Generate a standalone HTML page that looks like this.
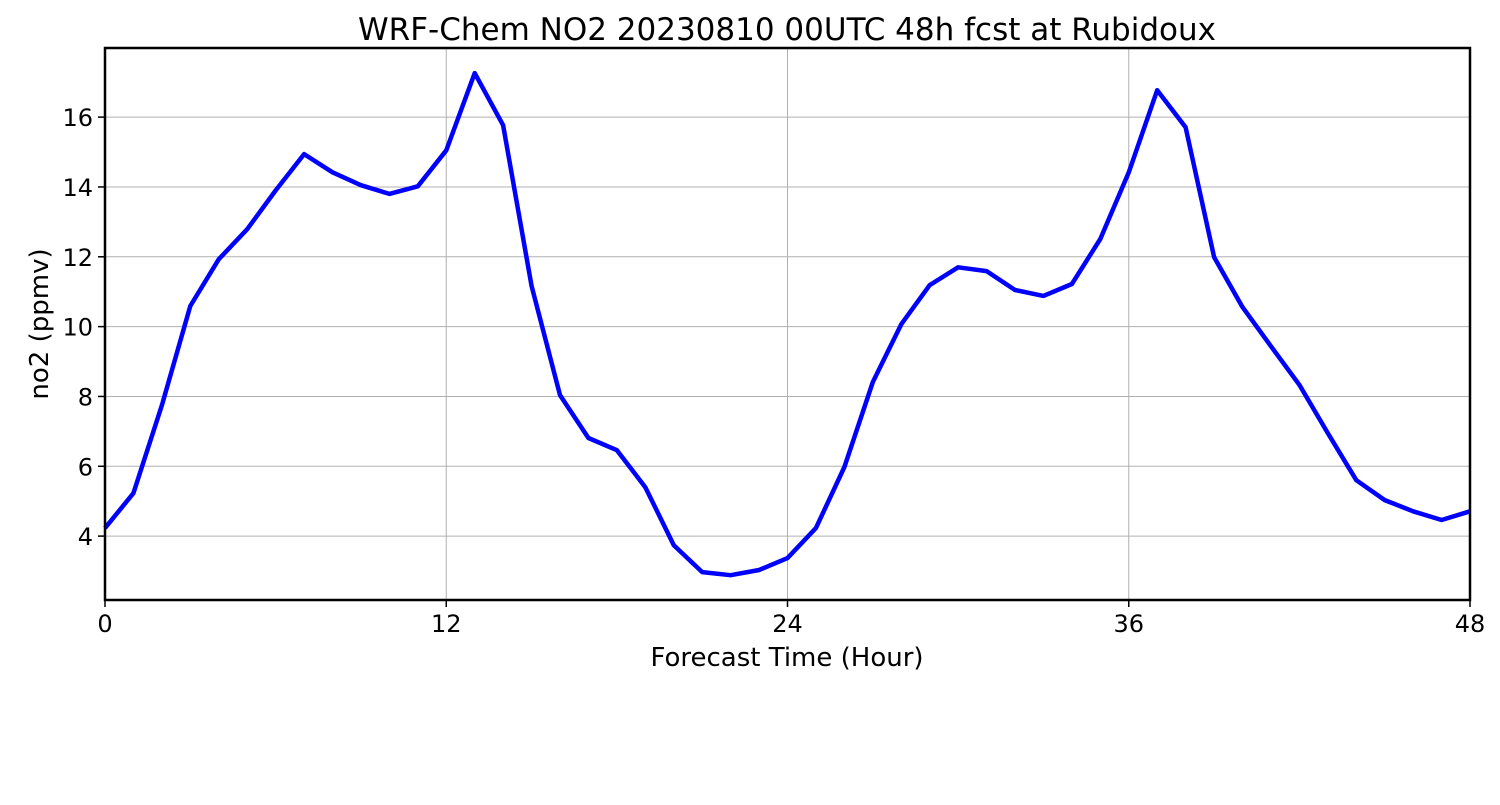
<!DOCTYPE html>
<html><head><meta charset="utf-8">
<style>body{margin:0;background:#fff;font-family:"Liberation Sans","DejaVu Sans",sans-serif}</style>
</head><body>
<svg id="chart" width="1500" height="800" xmlns="http://www.w3.org/2000/svg" font-family="DejaVu Sans, Liberation Sans, sans-serif">
<rect width="1500" height="800" fill="#fff"/>
<g id="grid"></g><g id="ticks"></g>
<text x="787" y="40" font-size="31" text-anchor="middle">WRF-Chem NO2  20230810 00UTC 48h fcst at Rubidoux</text>
<text x="787" y="666" font-size="26" text-anchor="middle">Forecast Time (Hour)</text>
<text transform="translate(48,324) rotate(-90)" font-size="26" text-anchor="middle">no2  (ppmv)</text>
<g id="series"></g>
<rect x="105" y="48" width="1365" height="552" fill="none" stroke="#000" stroke-width="2.5"/>
</svg>
<script>
const hours=[0,1,2,3,4,5,6,7,8,9,10,11,12,13,14,15,16,17,18,19,20,21,22,23,24,25,26,27,28,29,30,31,32,33,34,35,36,37,38,39,40,41,42,43,44,45,46,47,48];
const no2=[4.23,5.23,7.75,10.59,11.93,12.79,13.9,14.94,14.42,14.05,13.8,14.02,15.05,17.26,15.77,11.16,8.04,6.81,6.46,5.4,3.74,2.97,2.88,3.03,3.37,4.23,5.98,8.41,10.07,11.19,11.7,11.59,11.05,10.88,11.22,12.51,14.42,16.77,15.71,11.99,10.56,9.44,8.33,6.95,5.6,5.03,4.71,4.46,4.71];
const xTicks=[0,12,24,36,48];
const yTicks=[4,6,8,10,12,14,16];
const X0=105,X1=1470,Y0=600,Y1=48,xMin=0,xMax=48,yMin=2.17,yMax=17.98;
const xs=v=>X0+(v-xMin)/(xMax-xMin)*(X1-X0);
const ys=v=>Y0-(v-yMin)/(yMax-yMin)*(Y0-Y1);
const NS="http://www.w3.org/2000/svg";
function mk(t,a,p){const e=document.createElementNS(NS,t);for(const k in a)e.setAttribute(k,a[k]);p.appendChild(e);return e;}
const grid=document.getElementById('grid'),ticks=document.getElementById('ticks'),series=document.getElementById('series');
xTicks.forEach(t=>{const x=xs(t);
 const g=mk('line',{x1:x,x2:x,y1:Y1,y2:Y0,stroke:'#b0b0b0','stroke-width':1},grid);
 
 
 mk('line',{x1:x,x2:x,y1:Y0,y2:Y0+7,stroke:'#000','stroke-width':1.5},ticks);
 const l=mk('text',{x:x,y:Y0+32,'font-size':24,'text-anchor':'middle'},ticks);l.textContent=t;
 
 
});
yTicks.forEach(t=>{const y=ys(t);
 const g=mk('line',{x1:X0,x2:X1,y1:y,y2:y,stroke:'#b0b0b0','stroke-width':1},grid);
 
 
 mk('line',{x1:X0-7,x2:X0,y1:y,y2:y,stroke:'#000','stroke-width':1.5},ticks);
 const l=mk('text',{x:X0-12,y:y+9,'font-size':24,'text-anchor':'end'},ticks);l.textContent=t;
 
 
});
const pts=hours.map((h,i)=>xs(h).toFixed(1)+','+ys(no2[i]).toFixed(1)).join(' ');
const line=mk('polyline',{points:pts,fill:'none',stroke:'#0000ff','stroke-width':4.5,'stroke-linejoin':'round'},series);


</script>
</body></html>
